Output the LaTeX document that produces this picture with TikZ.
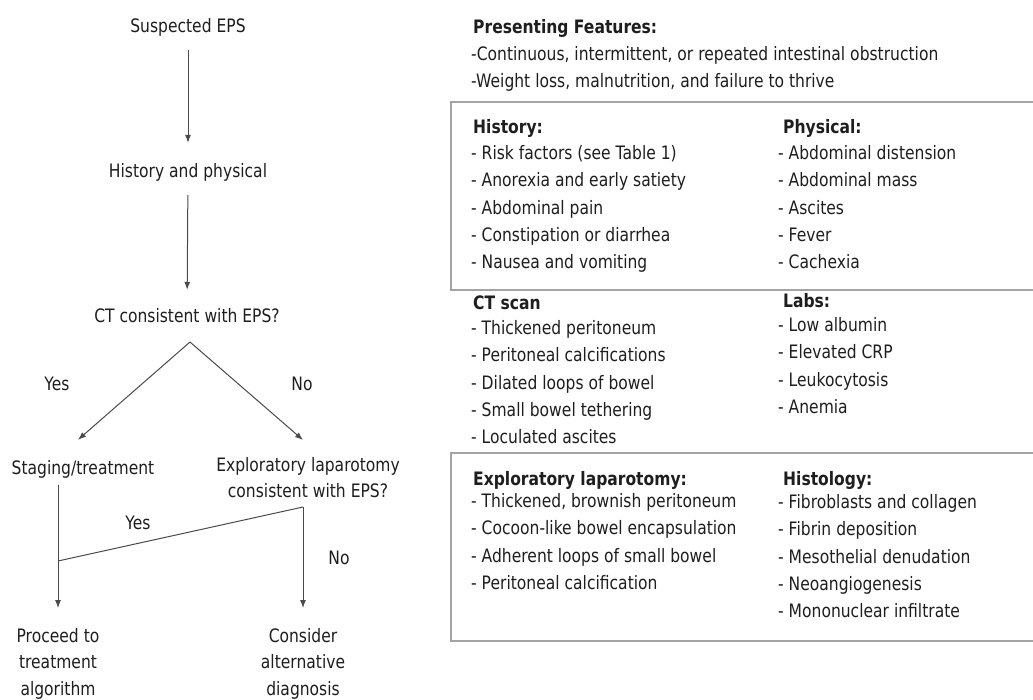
\documentclass[tikz,border=0pt]{standalone}
\usepackage{fontspec}
\setmainfont{DejaVu Sans}[FakeStretch=0.84]
\usetikzlibrary{arrows.meta,positioning}
\definecolor{inkgray}{HTML}{1E1E1E}
\definecolor{linegray}{HTML}{4A4A4A}
\definecolor{framegray}{HTML}{A4A4A4}
\tikzset{
	flow/.style={inner sep=0pt, text height=14pt, text depth=4pt, anchor=base},
	flowmulti/.style={inner sep=0pt, align=center, anchor=north, execute at begin node=\strut},
	tag/.style={inner sep=0pt, anchor=base},
	head/.style={inner sep=0pt, anchor=base west, font=\fontsize{18.5}{27}\selectfont\bfseries},
	items/.style={inner sep=0pt, anchor=north west, align=left, font=\fontsize{18.5}{27.4}\selectfont, execute at begin node=\strut},
	arr/.style={draw=linegray, line width=1pt, -{Latex[length=8pt,width=6pt]}},
	link/.style={draw=linegray, line width=1pt},
	frame/.style={draw=framegray, line width=1.8pt}
}

\begin{document}
\begin{tikzpicture}[x=1pt, y=-1pt, font=\fontsize{18.5}{26}\selectfont, text=inkgray]
\useasboundingbox (0,0) rectangle (1033,699);

% flow chart
\node[flow] (susp) at (188,32) {Suspected EPS};
\node[flow] (hist) at (188,177) {History and physical};
\node[flow] (ct) at (187,322) {CT consistent with EPS?};
\node[flow] (stage) at (83,474) {Staging/treatment};
\node[flowmulti] (explap) at (308,457) {Exploratory laparotomy\\consistent with EPS?};
\node[flowmulti, font=\fontsize{18.5}{26.5}\selectfont] (proceed) at (58,628) {Proceed to\\treatment\\algorithm};
\node[flowmulti, font=\fontsize{18.5}{26.5}\selectfont] (consider) at (303,628) {Consider\\alternative\\diagnosis};

\node[tag] (yesct) at (57,390) {Yes};
\node[tag] (noct) at (302,390) {No};
\node[tag] (yeslap) at (138,529) {Yes};
\node[tag] (nolap) at (339,564) {No};

\coordinate (fork) at (190,342);
\coordinate (bend) at (303,507);
\coordinate (join) at (58,561);

\draw[arr, shorten <=14pt, shorten >=20pt] (susp) -- (hist);
\draw[arr, shorten <=14pt, shorten >=18pt] (hist) -- (ct);
\draw[arr] (fork) -- ([xshift=-5pt,yshift=20pt]stage.north);
\draw[arr] (fork) -- ([xshift=-5pt,yshift=17pt]explap.north);
\draw[arr, shorten <=7pt, shorten >=20pt] (stage.south -| join) -- (proceed);
\draw[link] (bend) -- (join);
\draw[arr, shorten >=20pt] (bend) -- (consider);

% findings
\node[head] (preshead) at (473,33) {Presenting Features:};
\node[items] (preslist) at (471,46) {-Continuous, intermittent, or repeated intestinal obstruction\\-Weight loss, malnutrition, and failure to thrive};

\draw[frame] (451,102) rectangle (1060,290);
\node[head] (histhead) at (473,133) {History:};
\node[items] (histlist) at (471,145) {- Risk factors (see Table 1)\\- Anorexia and early satiety\\- Abdominal pain\\- Constipation or diarrhea\\- Nausea and vomiting};
\node[head] (physhead) at (783,133) {Physical:};
\node[items] (physlist) at (778,145) {- Abdominal distension\\- Abdominal mass\\- Ascites\\- Fever\\- Cachexia};

\node[head] (cthead) at (473,309) {CT scan};
\node[items] (ctlist) at (471,320) {- Thickened peritoneum\\- Peritoneal calcifications\\- Dilated loops of bowel\\- Small bowel tethering\\- Loculated ascites};
\node[head] (labshead) at (783,307) {Labs:};
\node[items] (labslist) at (778,317) {- Low albumin\\- Elevated CRP\\- Leukocytosis\\- Anemia};

\draw[frame] (451,453) rectangle (1060,641);
\node[head] (laphead) at (473,485) {Exploratory laparotomy:};
\node[items] (laplist) at (471,493) {- Thickened, brownish peritoneum\\- Cocoon-like bowel encapsulation\\- Adherent loops of small bowel\\- Peritoneal calcification};
\node[head] (histohead) at (783,485) {Histology:};
\node[items] (histolist) at (778,494) {- Fibroblasts and collagen\\- Fibrin deposition\\- Mesothelial denudation\\- Neoangiogenesis\\- Mononuclear infiltrate};
\end{tikzpicture}
\end{document}
